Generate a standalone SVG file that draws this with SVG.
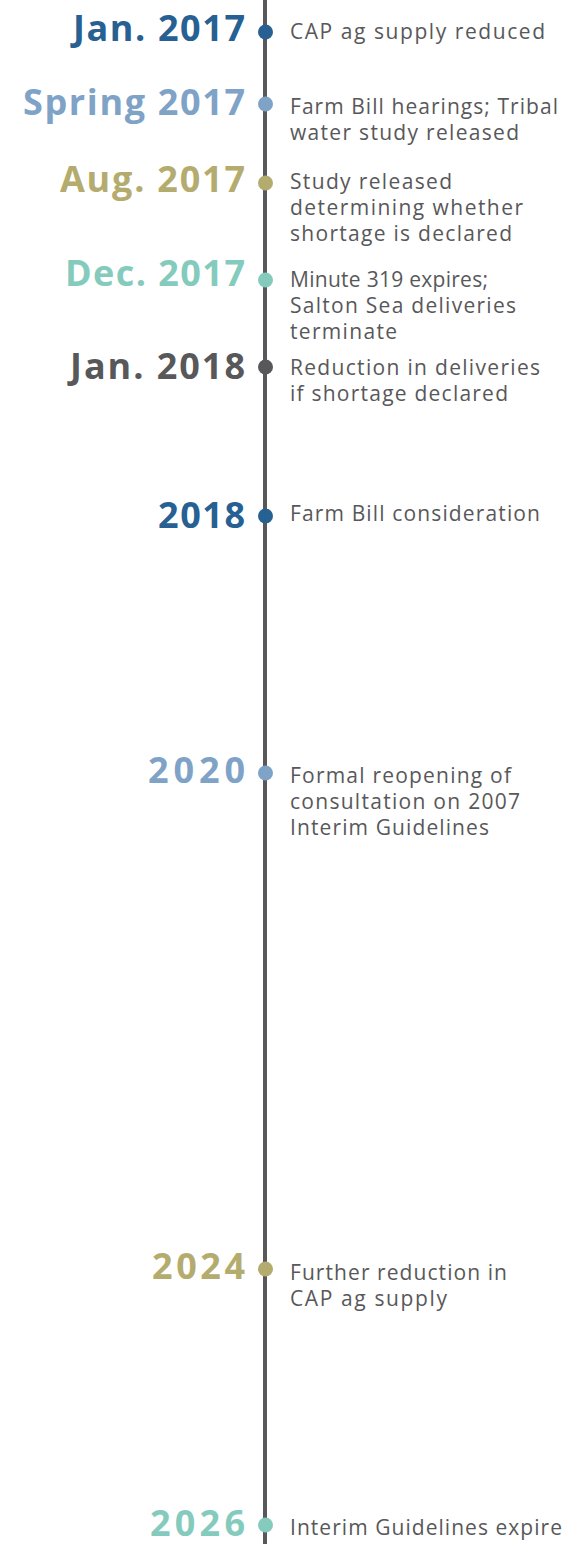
<svg xmlns="http://www.w3.org/2000/svg" width="577" height="1544" viewBox="0 0 577 1544">
<style>
.date{font-family:"Open Sans","Liberation Sans",sans-serif;font-weight:700;font-size:36px;text-anchor:end}
.desc{font-family:"Open Sans","Liberation Sans",sans-serif;font-size:21px;fill:#58585a}
.c1{fill:#276092}.c2{fill:#7fa2c7}.c3{fill:#b4ac6e}.c4{fill:#84cbbd}.c5{fill:#58585a}
</style>
<rect width="577" height="1544" fill="#ffffff"/>
<g id="connectors">
<line x1="265" y1="0" x2="265" y2="1544" stroke="#58585a" stroke-width="4"/>
</g>
<g id="n1"><circle class="c1" cx="265.5" cy="32" r="7.5"/><text class="date c1" x="245" y="41" textLength="172" lengthAdjust="spacing">Jan. 2017</text><text class="desc" x="290" y="39" textLength="255" lengthAdjust="spacing">CAP ag supply reduced</text></g>
<g id="n2"><circle class="c2" cx="265.5" cy="104" r="7.5"/><text class="date c2" x="245" y="115" textLength="222" lengthAdjust="spacing">Spring 2017</text><text class="desc" x="290" y="114" textLength="268" lengthAdjust="spacing">Farm Bill hearings; Tribal</text><text class="desc" x="290" y="140" textLength="229" lengthAdjust="spacing">water study released</text></g>
<g id="n3"><circle class="c3" cx="265.5" cy="183" r="7.5"/><text class="date c3" x="245" y="192" textLength="185" lengthAdjust="spacing">Aug. 2017</text><text class="desc" x="290" y="189" textLength="162" lengthAdjust="spacing">Study released</text><text class="desc" x="290" y="215" textLength="233" lengthAdjust="spacing">determining whether</text><text class="desc" x="290" y="241" textLength="222" lengthAdjust="spacing">shortage is declared</text></g>
<g id="n4"><circle class="c4" cx="265.5" cy="280" r="7.5"/><text class="date c4" x="245" y="286" textLength="180" lengthAdjust="spacing">Dec. 2017</text><text class="desc" x="290" y="287" textLength="198" lengthAdjust="spacing">Minute 319 expires;</text><text class="desc" x="290" y="313" textLength="226" lengthAdjust="spacing">Salton Sea deliveries</text><text class="desc" x="290" y="339" textLength="107" lengthAdjust="spacing">terminate</text></g>
<g id="n5"><circle class="c5" cx="265.5" cy="367" r="7.5"/><text class="date c5" x="245" y="379" textLength="175" lengthAdjust="spacing">Jan. 2018</text><text class="desc" x="290" y="375" textLength="250" lengthAdjust="spacing">Reduction in deliveries</text><text class="desc" x="290" y="401" textLength="218" lengthAdjust="spacing">if shortage declared</text></g>
<g id="n6"><circle class="c1" cx="265.5" cy="516" r="7.5"/><text class="date c1" x="245" y="528" textLength="87" lengthAdjust="spacing">2018</text><text class="desc" x="290" y="521" textLength="250" lengthAdjust="spacing">Farm Bill consideration</text></g>
<g id="n7"><circle class="c2" cx="265.5" cy="773" r="7.5"/><text class="date c2" x="245" y="783" textLength="97" lengthAdjust="spacing">2020</text><text class="desc" x="290" y="783" textLength="221" lengthAdjust="spacing">Formal reopening of</text><text class="desc" x="290" y="809" textLength="230" lengthAdjust="spacing">consultation on 2007</text><text class="desc" x="290" y="835" textLength="199" lengthAdjust="spacing">Interim Guidelines</text></g>
<g id="n8"><circle class="c3" cx="265.5" cy="1269" r="7.5"/><text class="date c3" x="245" y="1279" textLength="93" lengthAdjust="spacing">2024</text><text class="desc" x="290" y="1280" textLength="217" lengthAdjust="spacing">Further reduction in</text><text class="desc" x="290" y="1306" textLength="157" lengthAdjust="spacing">CAP ag supply</text></g>
<g id="n9"><circle class="c4" cx="265.5" cy="1525" r="7.5"/><text class="date c4" x="245" y="1536" textLength="95" lengthAdjust="spacing">2026</text><text class="desc" x="290" y="1535" textLength="272" lengthAdjust="spacing">Interim Guidelines expire</text></g>
</svg>
